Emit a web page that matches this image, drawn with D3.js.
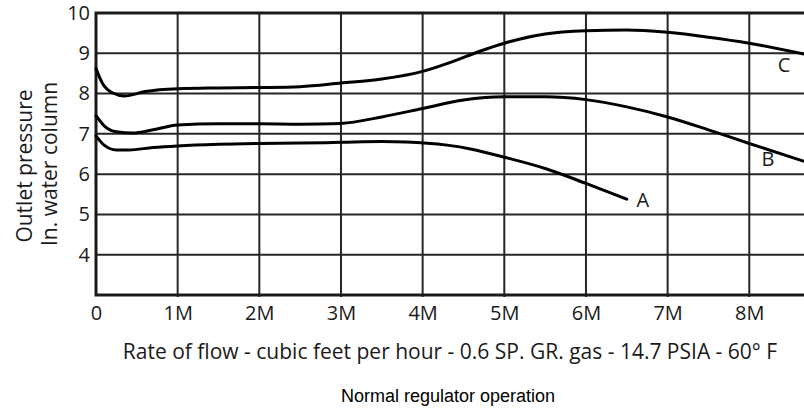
<!DOCTYPE html>
<html>
<head>
<meta charset="utf-8">
<script src="https://cdn.jsdelivr.net/npm/d3@7"></script>
<style>
  html, body { margin: 0; padding: 0; background: #fff; }
  svg { display: block; }
</style>
</head>
<body>
<svg id="chart" width="804" height="408"></svg>
<script>
// Flow in thousands of cubic feet per hour (M), pressure in inches of water column
const flowTicks = [0, 1, 2, 3, 4, 5, 6, 7, 8];
const flowTickLabels = ["0", "1M", "2M", "3M", "4M", "5M", "6M", "7M", "8M"];
const pressureTicks = [4, 5, 6, 7, 8, 9, 10];
const pressureTickLabels = ["4", "5", "6", "7", "8", "9", "10"];

const flowA = [0, 0.1, 0.25, 0.4, 0.7, 1, 1.5, 2, 2.5, 3, 3.5, 3.8, 4.3, 4.6, 5, 5.5, 6, 6.5];
const pressureA = [6.95, 6.72, 6.6, 6.6, 6.66, 6.7, 6.74, 6.76, 6.77, 6.79, 6.81, 6.8, 6.72, 6.62, 6.42, 6.14, 5.77, 5.38];

const flowB = [0, 0.1, 0.25, 0.45, 0.7, 1, 1.5, 2, 2.5, 3, 3.5, 4, 4.5, 5, 5.5, 6, 6.5, 7, 7.5, 8, 8.67];
const pressureB = [7.45, 7.2, 7.05, 7.02, 7.1, 7.22, 7.25, 7.25, 7.24, 7.26, 7.42, 7.63, 7.84, 7.92, 7.92, 7.85, 7.67, 7.42, 7.1, 6.76, 6.32];

const flowC = [0, 0.08, 0.2, 0.35, 0.6, 1, 1.5, 2, 2.5, 3, 3.5, 4, 4.35, 4.7, 5, 5.5, 6, 6.5, 7, 7.5, 8, 8.67];
const pressureC = [8.62, 8.25, 8.02, 7.94, 8.05, 8.12, 8.14, 8.15, 8.17, 8.26, 8.36, 8.55, 8.78, 9.05, 9.25, 9.48, 9.56, 9.58, 9.52, 9.4, 9.25, 8.98];

const curveNames = ["A", "B", "C"];
// Where each curve's letter sits, in flow / pressure units
const labelFlow = [6.62, 8.15, 8.35];
const labelPressure = [5.36, 6.37, 8.72];

const svg = d3.select("#chart");
const plotLeft = 96, plotRight = 804, plotTop = 13, plotBottom = 295;
const ink = "#1a1a1a";
const font = "'Open Sans', 'DejaVu Sans', sans-serif";

const x = d3.scaleLinear().domain([0, 8.67]).range([plotLeft, plotRight]);
const y = d3.scaleLinear().domain([3, 10]).range([plotBottom, plotTop]);

// Grid
const grid = svg.append("g");
grid.selectAll("line.h")
  .data(pressureTicks.filter(v => v < 10))
  .join("line")
  .attr("class", "h")
  .attr("x1", plotLeft).attr("x2", plotRight)
  .attr("y1", d => y(d)).attr("y2", d => y(d))
  .attr("stroke", "#262626").attr("stroke-width", 2);
grid.selectAll("line.v")
  .data(flowTicks.filter(v => v > 0))
  .join("line")
  .attr("class", "v")
  .attr("x1", d => x(d)).attr("x2", d => x(d))
  .attr("y1", plotTop).attr("y2", plotBottom + 2)
  .attr("stroke", "#262626").attr("stroke-width", 2);

// Frame: top, left, bottom
svg.append("path")
  .attr("d", `M${plotRight},${y(10)}H${x(0)}V${y(3)}H${plotRight}`)
  .attr("fill", "none").attr("stroke", ink).attr("stroke-width", 3);

// Axes text
const xAxis = d3.axisBottom(x).tickValues(flowTicks)
  .tickFormat((d, i) => flowTickLabels[i]).tickSize(0).tickPadding(11);
const gx = svg.append("g").attr("transform", `translate(0,${plotBottom})`).call(xAxis);
gx.select(".domain").remove();
gx.selectAll("text").attr("font-family", font).attr("font-size", 20).attr("fill", ink);

const yAxis = d3.axisLeft(y).tickValues(pressureTicks)
  .tickFormat((d, i) => pressureTickLabels[i]).tickSize(0).tickPadding(6);
const gy = svg.append("g").attr("transform", `translate(${plotLeft},0)`).call(yAxis);
gy.select(".domain").remove();
gy.selectAll("text").attr("font-family", font).attr("font-size", 20).attr("fill", ink);

// Curves
const line = d3.line().x(d => x(d[0])).y(d => y(d[1])).curve(d3.curveMonotoneX);
const series = [
  d3.zip(flowA, pressureA),
  d3.zip(flowB, pressureB),
  d3.zip(flowC, pressureC)
];
svg.append("g").selectAll("path")
  .data(series)
  .join("path")
  .attr("d", line)
  .attr("fill", "none")
  .attr("stroke", "#000")
  .attr("stroke-width", 3)
  .attr("stroke-linecap", "round");

svg.append("g").selectAll("text")
  .data(curveNames)
  .join("text")
  .attr("x", (d, i) => x(labelFlow[i]))
  .attr("y", (d, i) => y(labelPressure[i]))
  .attr("dy", "0.36em")
  .attr("font-family", font).attr("font-size", 20).attr("fill", ink)
  .text(d => d);

// Titles
svg.append("text")
  .attr("x", 450).attr("y", 359)
  .attr("text-anchor", "middle")
  .attr("font-family", font).attr("font-size", 21).attr("fill", ink)
  .text("Rate of flow - cubic feet per hour - 0.6 SP. GR. gas - 14.7 PSIA - 60° F");

svg.append("g").attr("transform", "translate(32,166) rotate(-90)")
  .append("text")
  .attr("text-anchor", "middle")
  .attr("font-family", font).attr("font-size", 21).attr("fill", ink)
  .text("Outlet pressure");
svg.append("g").attr("transform", "translate(57,164) rotate(-90)")
  .append("text")
  .attr("text-anchor", "middle")
  .attr("font-family", font).attr("font-size", 21).attr("fill", ink)
  .text("In. water column");

svg.append("text")
  .attr("x", 448).attr("y", 402)
  .attr("text-anchor", "middle")
  .attr("font-family", "'Liberation Sans', Arial, sans-serif").attr("font-size", 18).attr("fill", "#000")
  .text("Normal regulator operation");
</script>
</body>
</html>
